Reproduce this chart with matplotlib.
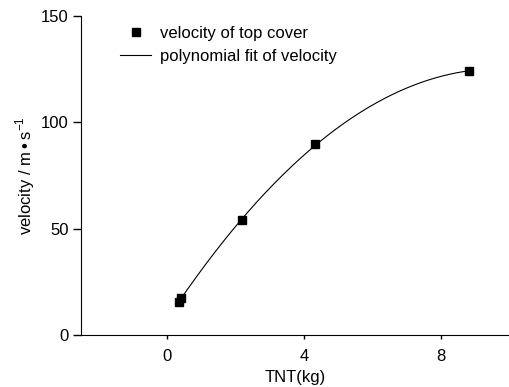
import numpy as np
import matplotlib.pyplot as plt
from matplotlib import font_manager

names = {f.name for f in font_manager.fontManager.ttflist}
font = 'Liberation Sans Narrow' if 'Liberation Sans Narrow' in names else 'Liberation Sans'
plt.rcParams['font.family'] = [font, 'DejaVu Sans']
plt.rcParams['mathtext.fontset'] = 'custom'
plt.rcParams['mathtext.rm'] = font

tnt = [0.35, 0.41, 2.2, 4.33, 8.8]
velocity = [15.8, 17.4, 54.0, 89.8, 124.1]

coef = np.polyfit(tnt, velocity, 2)
xfit = np.linspace(min(tnt), max(tnt), 200)
yfit = np.polyval(coef, xfit)

fig = plt.figure(figsize=(5.1, 3.87), dpi=100)
ax = fig.add_axes([0.159, 0.134, 0.841, 0.825])

ax.plot(tnt, velocity, 's', color='black', markersize=5.5, label='velocity of top cover')
ax.plot(xfit, yfit, '-', color='black', linewidth=0.8, label='polynomial fit of velocity')

ax.set_xlim(-2.5, 10)
ax.set_ylim(0, 150)
ax.set_xticks([0, 4, 8])
ax.set_yticks([0, 50, 100, 150])
ax.spines['top'].set_visible(False)
ax.spines['right'].set_visible(False)
ax.tick_params(labelsize=12, width=1)
ax.tick_params(axis='y', length=6, pad=3)
ax.tick_params(axis='x', length=3, pad=7)
ax.set_xlabel('TNT(kg)', fontsize=12, labelpad=4)
ax.set_ylabel('velocity / m\u2009\u2022\u2009s$^{\\mathregular{-1}}$', fontsize=12, labelpad=3)

ax.legend(loc='upper left', bbox_to_anchor=(0.055, 1.015), frameon=False, fontsize=12,
          handlelength=1.9, handletextpad=0.5, labelspacing=0.45)

fig.savefig('out.png', dpi=100)
